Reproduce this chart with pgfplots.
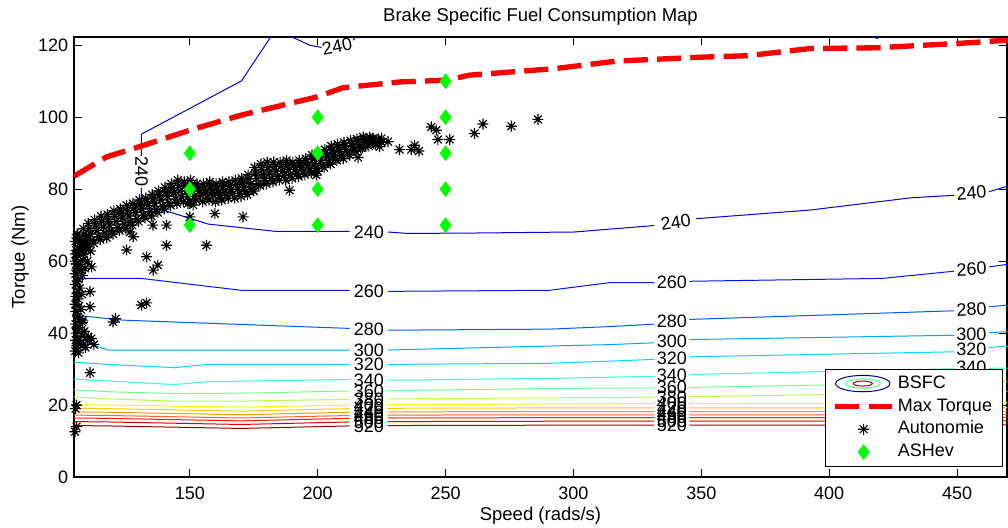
\documentclass[border=0pt]{standalone}
\usepackage{fontspec}
\setmainfont{Liberation Sans}
\usepackage{pgfplots}
\usepackage{pgfplotstable}
\pgfplotsset{compat=1.18}

% jet-like colours for the BSFC iso-lines (g/kWh)
\definecolor{c240}{rgb}{0,0,0.85}
\definecolor{c260}{rgb}{0,0.1,0.95}
\definecolor{c280}{rgb}{0,0.35,1}
\definecolor{c300}{rgb}{0,0.65,1}
\definecolor{c320}{rgb}{0,0.85,1}
\definecolor{c340}{rgb}{0.2,1,0.85}
\definecolor{c360}{rgb}{0.45,1,0.55}
\definecolor{c380}{rgb}{0.7,1,0.3}
\definecolor{c400}{rgb}{1,1,0}
\definecolor{c420}{rgb}{1,0.8,0}
\definecolor{c440}{rgb}{1,0.6,0}
\definecolor{c460}{rgb}{1,0.38,0.2}
\definecolor{c480}{rgb}{1,0.1,0}
\definecolor{c500}{rgb}{0.85,0,0}
\definecolor{c520}{rgb}{0.6,0,0}
\definecolor{legblue}{rgb}{0,0,0.55}
\definecolor{leggreen}{rgb}{0.3,1,0.6}
\definecolor{legred}{rgb}{0.6,0,0}

\newcommand{\tickfont}{\fontsize{10.8}{13}\selectfont}
\newcommand{\labfont}{\fontsize{11.1}{13}\selectfont}

\tikzset{clab/.style={font=\tickfont, inner sep=0pt}}
\pgfplotsset{cline/.style={line width=0.6pt, forget plot}}

% eight-armed asterisk marker
\pgfdeclareplotmark{ast8}{%
  \pgfpathmoveto{\pgfqpoint{0pt}{\pgfplotmarksize}}%
  \pgfpathlineto{\pgfqpoint{0pt}{-\pgfplotmarksize}}%
  \pgfpathmoveto{\pgfqpoint{\pgfplotmarksize}{0pt}}%
  \pgfpathlineto{\pgfqpoint{-\pgfplotmarksize}{0pt}}%
  \pgfpathmoveto{\pgfqpoint{0.707\pgfplotmarksize}{0.707\pgfplotmarksize}}%
  \pgfpathlineto{\pgfqpoint{-0.707\pgfplotmarksize}{-0.707\pgfplotmarksize}}%
  \pgfpathmoveto{\pgfqpoint{-0.707\pgfplotmarksize}{0.707\pgfplotmarksize}}%
  \pgfpathlineto{\pgfqpoint{0.707\pgfplotmarksize}{-0.707\pgfplotmarksize}}%
  \pgfusepathqstroke}

% operating points from the Autonomie simulation (speed rad/s, torque Nm)
\pgfplotstableread{
x y
105.2 35.0
105.8 36.5
106.5 34.5
105.4 38.0
107.2 37.2
105.6 40.0
106.8 41.5
105.3 42.5
108.0 43.0
106.0 44.5
105.5 46.0
107.5 46.5
105.2 48.0
106.3 49.5
105.8 51.0
107.0 52.5
105.4 53.5
106.5 55.0
105.3 56.5
108.0 56.0
105.9 58.0
107.3 59.0
105.2 60.0
106.4 61.5
108.5 62.0
105.6 63.0
107.4 64.0
105.3 65.5
106.8 66.3
108.8 65.0
105.9 67.3
109.5 67.0
110.0 38.0
109.2 36.0
108.8 40.5
111.5 38.5
112.5 36.8
108.3 36.7
110.3 39.0
108.2 43.6
106.2 37.8
107.8 39.2
105.9 41.2
107.0 44.0
106.7 47.5
105.5 50.2
107.8 50.8
106.0 54.3
107.6 57.5
105.6 59.3
108.2 60.3
106.9 63.0
105.4 62.0
109.6 63.2
111.2 62.8
110.0 60.0
109.0 58.0
111.0 29.0
105.7 20.0
105.3 19.0
105.7 14.0
105.1 12.6
106.0 62.5
107.0 65.0
106.2 67.5
108.0 63.5
109.2 66.0
108.4 69.0
110.0 64.0
111.2 67.5
110.3 70.5
112.5 65.0
113.7 68.5
112.8 71.5
115.0 66.0
116.2 69.5
115.3 72.5
117.5 66.5
118.7 70.0
117.8 73.0
120.0 67.5
121.2 71.0
120.3 74.0
122.5 68.5
123.7 72.0
122.8 74.5
125.0 69.0
126.2 72.5
125.3 75.5
127.5 70.0
128.7 73.5
127.8 76.0
130.0 71.0
131.2 74.5
130.3 77.0
132.5 72.0
133.7 75.5
132.8 77.5
135.0 72.5
136.2 76.0
135.3 78.5
137.5 73.5
138.7 77.0
137.8 79.5
140.0 74.5
141.2 78.0
140.3 80.5
142.5 75.5
143.7 79.0
142.8 81.5
145.0 76.0
146.2 79.5
145.3 82.5
147.5 76.5
148.7 79.5
147.8 82.0
150.0 76.5
151.2 79.5
150.3 82.5
152.5 77.0
153.7 79.5
152.8 81.5
155.0 76.5
156.2 79.0
155.3 81.5
157.5 77.0
158.7 79.5
157.8 82.0
160.0 76.5
161.2 79.0
160.3 81.5
162.5 77.0
163.7 79.5
162.8 82.0
165.0 77.5
166.2 80.0
165.3 82.0
167.5 77.5
168.7 80.0
167.8 82.5
170.0 78.0
171.2 80.5
170.3 83.0
172.5 78.5
173.7 81.5
172.8 84.0
175.0 79.5
176.2 83.0
175.3 86.0
177.5 81.0
178.7 84.0
177.8 87.0
180.0 81.5
181.2 84.5
180.3 87.5
182.5 82.0
183.7 85.0
182.8 87.5
185.0 82.5
186.2 85.0
185.3 87.5
187.5 82.5
188.7 85.5
187.8 88.0
190.0 83.0
191.2 85.5
190.3 87.5
192.5 83.5
193.7 86.0
192.8 88.0
195.0 84.0
196.2 86.5
195.3 88.5
197.5 84.5
198.7 87.0
197.8 89.5
200.0 85.0
201.2 88.0
200.3 90.0
202.5 86.0
203.7 89.0
202.8 91.0
205.0 87.0
206.2 89.5
205.3 92.0
207.5 88.0
208.7 90.5
207.8 92.5
210.0 88.5
211.2 91.0
210.3 93.0
212.5 89.5
213.7 92.0
212.8 93.5
215.0 90.5
216.2 92.5
215.3 94.0
217.5 91.5
218.7 93.0
217.8 94.5
220.0 92.0
221.2 93.5
220.3 94.5
222.5 92.5
223.7 94.0
225.0 93.0
107.8 63.8
106.6 66.3
109.8 64.8
108.6 67.5
111.8 65.8
110.6 69.0
114.3 66.8
113.1 70.0
116.8 67.8
115.6 71.0
119.3 68.3
118.1 71.5
121.8 69.3
120.6 72.5
124.3 70.3
123.1 73.3
126.8 70.8
125.6 74.0
129.3 71.8
128.1 74.8
131.8 72.8
130.6 75.8
134.3 73.8
133.1 76.5
136.8 74.3
135.6 77.3
139.3 75.3
138.1 78.3
141.8 76.3
140.6 79.3
144.3 77.3
143.1 80.3
146.8 77.8
145.6 81.0
149.3 78.0
148.1 80.8
151.8 78.0
150.6 81.0
154.3 78.3
153.1 80.5
156.8 77.8
155.6 80.3
159.3 78.3
158.1 80.8
161.8 77.8
160.6 80.3
164.3 78.3
163.1 80.8
166.8 78.8
165.6 81.0
169.3 78.8
168.1 81.3
171.8 79.3
170.6 81.8
174.3 80.0
173.1 82.8
176.8 81.3
175.6 84.5
179.3 82.5
178.1 85.5
181.8 83.0
180.6 86.0
184.3 83.5
183.1 86.3
186.8 83.8
185.6 86.3
189.3 84.0
188.1 86.8
191.8 84.3
190.6 86.5
194.3 84.8
193.1 87.0
196.8 85.3
195.6 87.5
199.3 85.8
198.1 88.3
201.8 86.5
200.6 89.0
204.3 87.5
203.1 90.0
206.8 88.3
205.6 90.8
209.3 89.3
208.1 91.5
211.8 89.8
210.6 92.0
214.3 90.8
213.1 92.8
216.8 91.5
215.6 93.3
219.3 92.3
218.1 93.8
221.8 92.8
220.6 94.0
120.0 43.1
121.0 44.0
131.1 47.8
133.1 48.4
111.0 51.5
111.0 47.3
111.6 58.4
125.3 63.1
133.1 61.2
135.7 57.5
137.5 58.9
140.9 64.4
140.9 70.0
156.5 64.4
127.9 66.8
126.6 68.1
135.6 70.0
150.0 72.3
149.3 76.0
189.0 79.7
215.8 88.8
170.8 72.3
159.8 73.2
151.3 75.6
199.5 83.9
221.6 94.1
224.9 94.1
227.5 93.2
224.2 91.8
232.0 91.0
236.6 91.0
239.6 90.6
237.9 92.2
244.4 97.3
246.4 96.4
247.0 93.8
251.6 93.8
261.3 95.5
264.6 98.1
275.7 97.5
286.1 99.4
}\autonomie

% engine maximum torque curve
\pgfplotstableread{
x y
104.7 83.6
117.5 89.0
129.8 91.7
150.0 96.4
170.2 100.6
199.5 105.6
209.9 108.2
232.0 109.8
250.2 110.3
259.4 111.7
292.6 113.5
316.8 115.6
350.1 116.7
368.3 117.1
392.5 119.1
418.2 119.3
450.0 120.5
469.5 121.4
}\maxtorque

% ASHev test points
\pgfplotstableread{
x y
150 90
150 80
150 70
200 100
200 90
200 80
200 70
250 110
250 100
250 90
250 80
250 70
}\ashev

\begin{document}
\begin{tikzpicture}
\path[use as bounding box] (-44.4pt,-30pt) rectangle (560.4pt,286.2pt);
\begin{axis}[
  at={(0,0)}, anchor=south west,
  scale only axis, width=559.8pt, height=264pt,
  xmin=104.72, xmax=469.5, ymin=0, ymax=122.3,
  xtick={150,200,...,450}, ytick={0,20,...,120},
  tick align=inside, major tick length=4.8pt,
  axis line style={line width=0.7pt},
  every tick/.style={black, line width=0.6pt},
  /pgf/number format/assume math mode=true,
  ticklabel style={font=\tickfont},
  xticklabel style={yshift=-2.5pt},
  unbounded coords=jump,
  title={Brake Specific Fuel Consumption Map},
  every axis title/.style={at={(axis description cs:0.5,1)}, anchor=center, yshift=12pt, font=\labfont},
  xlabel={Speed (rads/s)},
  ylabel={Torque (Nm)},
  every axis x label/.style={at={(axis description cs:0.5,0)}, anchor=center, yshift=-23.4pt, font=\labfont},
  every axis y label/.style={at={(axis description cs:0,0.5)}, anchor=center, rotate=90, yshift=32.4pt, font=\labfont},
  legend style={at={(axis description cs:1,0)}, anchor=south east, xshift=-2.7pt, yshift=6.3pt,
    draw=black, line width=0.6pt, fill=white, font=\tickfont,
    inner xsep=4pt, inner ysep=1.5pt, row sep=0pt,
    nodes={inner ysep=1.85pt, text height=7.8pt, text depth=2.2pt}},
  legend cell align=left,
]

% legend entries
\addlegendimage{legend image code/.code={
  \draw[legblue, line width=0.6pt] (16.5pt,0pt) ellipse [x radius=16.3pt, y radius=4.9pt];
  \draw[leggreen, line width=0.6pt] (16.5pt,0pt) ellipse [x radius=10.5pt, y radius=2.7pt];
  \draw[legred, line width=0.6pt] (16.5pt,0pt) ellipse [x radius=5.7pt, y radius=1.5pt];}}
\addlegendentry{BSFC}
\addlegendimage{legend image code/.code={
  \draw[red, line width=3.2pt, dash pattern=on 14.5pt off 5.5pt] (0pt,0pt) -- (34pt,0pt);}}
\addlegendentry{Max Torque}
\addlegendimage{legend image code/.code={
  \draw[black, line width=0.7pt, only marks, mark=ast8, mark size=3.3pt] plot coordinates {(17pt,0pt)};}}
\addlegendentry{Autonomie}
\addlegendimage{legend image code/.code={
  \draw[green, line width=0.3pt, only marks, mark=diamond*, mark size=4.5pt, fill=green] plot coordinates {(17pt,0pt)};}}
\addlegendentry{ASHev}

% BSFC iso-lines (gaps left for the level labels)
\addplot[cline, c240] coordinates {(181.9,122.6)(170.2,110.1)(131.1,95.3)(131.1,89.2)(nan,nan)
  (131.1,80.4)(131.1,74.8)(139.6,74.2)(157.2,70.3)(183.2,68.3)(212.5,68.3)(nan,nan)
  (227.5,68.1)(235.2,67.7)(259.4,67.8)(300.4,68.1)(331.6,69.9)(nan,nan)
  (348.0,71.8)(392.5,74.2)(431.9,77.6)(448.8,78.3)(nan,nan)(462.5,79.3)(469.5,80.8)};
\addplot[cline, c240] coordinates {(189.1,122.6)(196.9,120.0)(200.8,119.5)(201.5,119.4)(nan,nan)(213.8,121.4)(215.3,122.6)};
\addplot[cline, c240] coordinates {(416.8,122.6)(418.6,121.9)(420.4,122.6)};
\addplot[cline, c260] coordinates {(104.7,55.2)(131,55.2)(170,51.9)(212.5,51.9)(nan,nan)
  (227.5,51.6)(290.6,51.9)(314,54)(331.6,54)(nan,nan)(345.3,54.4)(420.7,55.2)(448.8,57.2)(nan,nan)(462.5,58.4)(469.5,59.1)};
\addplot[cline, c280] coordinates {(104.7,45)(123.8,43.6)(212.5,41.3)(nan,nan)
  (227.5,40.8)(290.6,41.1)(314,41.8)(331.6,42.5)(nan,nan)(345.3,43.8)(448.8,46.2)(nan,nan)(462.5,47.3)(469.5,47.8)};
\addplot[cline, c300] coordinates {(104.7,38.5)(118,35.3)(212.5,35.3)(nan,nan)
  (227.5,35.3)(290.6,36.4)(314,36.8)(331.6,37.3)(nan,nan)(345.3,38.2)(448.8,39.4)(nan,nan)(462.5,40.1)(469.5,40.4)};
\addplot[cline, c320] coordinates {(104.7,31.9)(118,31.3)(144,30.4)(157,31.3)(212.5,31.3)(nan,nan)
  (227.5,31.3)(290.6,31.6)(314,32.2)(331.6,32.7)(nan,nan)(345.3,33.4)(448.8,34.8)(nan,nan)(462.5,36)(469.5,36.4)};
\addplot[cline, c340] coordinates {(104.7,27.2)(118,26.7)(144,25.7)(157,26.5)(212.5,27.1)(nan,nan)
  (227.5,26.9)(290.6,27.4)(331.6,28)(nan,nan)(345.3,28.5)(448.8,30.1)(nan,nan)(462.5,30.2)(469.5,30.3)};
\addplot[cline, c360] coordinates {(104.7,24.2)(118,23.7)(144,23.2)(170,23.3)(212.5,23.9)(nan,nan)
  (227.5,24.0)(290.6,24.6)(331.6,24.8)(nan,nan)(345.3,24.9)(469.5,26.5)};
\addplot[cline, c380] coordinates {(104.7,22.3)(118,21.7)(144,21.1)(170,21.1)(212.5,21.6)(nan,nan)
  (227.5,21.7)(290.6,22.0)(331.6,22.2)(nan,nan)(345.3,22.3)(469.5,23.7)};
\addplot[cline, c400] coordinates {(104.7,20.2)(118,20.0)(170,19.4)(212.5,20.0)(nan,nan)
  (227.5,20.1)(290.6,20.3)(331.6,20.4)(nan,nan)(345.3,20.4)(420,20.5)(469.5,20.7)};
\addplot[cline, c420] coordinates {(104.7,19.1)(118,19.0)(170,18.3)(212.5,19.0)(nan,nan)
  (227.5,19.1)(290.6,19.2)(331.6,19.2)(nan,nan)(345.3,19.2)(420,19.2)(469.5,19.3)};
\addplot[cline, c440] coordinates {(104.7,18.1)(118,18.0)(170,17.3)(212.5,18.0)(nan,nan)
  (227.5,18.1)(290.6,18.2)(331.6,18.2)(nan,nan)(345.3,18.2)(420,18.2)(469.5,18.3)};
\addplot[cline, c460] coordinates {(104.7,17.2)(118,17.1)(170,16.4)(212.5,17.1)(nan,nan)
  (227.5,17.2)(290.6,17.3)(331.6,17.3)(nan,nan)(345.3,17.3)(420,17.3)(469.5,17.4)};
\addplot[cline, c480] coordinates {(104.7,16.4)(118,16.3)(170,15.6)(212.5,16.3)(nan,nan)
  (227.5,16.4)(290.6,16.5)(331.6,16.5)(nan,nan)(345.3,16.5)(420,16.5)(469.5,16.6)};
\addplot[cline, c500] coordinates {(104.7,15.4)(118,15.3)(170,14.6)(212.5,15.3)(nan,nan)
  (227.5,15.4)(290.6,15.5)(331.6,15.5)(nan,nan)(345.3,15.5)(420,15.5)(469.5,15.6)};
\addplot[cline, c520] coordinates {(104.7,14.3)(118,14.2)(170,13.5)(212.5,14.2)(nan,nan)
  (227.5,14.3)(290.6,14.4)(331.6,14.4)(nan,nan)(345.3,14.4)(420,14.4)(469.5,14.5)};

% level labels
\node[clab, rotate=-90] at (axis cs:131.1,84.8) {240};
\node[clab, rotate=12] at (axis cs:207.6,119.6) {240};
\node[clab] at (axis cs:220,68.1) {240};
\node[clab, rotate=9] at (axis cs:340,70.8) {240};
\node[clab, rotate=5] at (axis cs:455.6,78.9) {240};
\node[clab] at (axis cs:220,51.7) {260};
\node[clab] at (axis cs:220,41.0) {280};
\node[clab] at (axis cs:220,35.3) {300};
\node[clab] at (axis cs:220,31.3) {320};
\node[clab] at (axis cs:220,27.0) {340};
\node[clab] at (axis cs:220,23.95) {360};
\node[clab] at (axis cs:220,21.65) {380};
\node[clab] at (axis cs:220,20.05) {400};
\node[clab] at (axis cs:220,19.0) {420};
\node[clab] at (axis cs:220,18.0) {440};
\node[clab] at (axis cs:220,17.1) {460};
\node[clab] at (axis cs:220,16.3) {480};
\node[clab] at (axis cs:220,15.3) {500};
\node[clab] at (axis cs:220,14.2) {520};
\node[clab] at (axis cs:338.5,54.1) {260};
\node[clab] at (axis cs:338.5,43.2) {280};
\node[clab] at (axis cs:338.5,37.7) {300};
\node[clab] at (axis cs:338.5,33.0) {320};
\node[clab] at (axis cs:338.5,28.2) {340};
\node[clab] at (axis cs:338.5,24.85) {360};
\node[clab] at (axis cs:338.5,22.25) {380};
\node[clab] at (axis cs:338.5,20.4) {400};
\node[clab] at (axis cs:338.5,19.2) {420};
\node[clab] at (axis cs:338.5,18.2) {440};
\node[clab] at (axis cs:338.5,17.3) {460};
\node[clab] at (axis cs:338.5,16.5) {480};
\node[clab] at (axis cs:338.5,15.5) {500};
\node[clab] at (axis cs:338.5,14.4) {520};
\node[clab, rotate=3] at (axis cs:455.6,57.8) {260};
\node[clab, rotate=3] at (axis cs:455.6,46.6) {280};
\node[clab] at (axis cs:455.6,39.7) {300};
\node[clab] at (axis cs:455.6,35.4) {320};
\node[clab] at (axis cs:455.6,30.4) {340};

% maximum torque
\addplot[forget plot, red, line width=3.2pt, dash pattern=on 14.5pt off 5.5pt] table {\maxtorque};

% operating points
\addplot[forget plot, only marks, black, mark=ast8, mark size=3.3pt, line width=0.7pt] table {\autonomie};
\addplot[forget plot, only marks, green, mark=diamond*, mark size=4.5pt,
  mark options={fill=green, draw=green, line width=0.3pt}] table {\ashev};
\end{axis}
\end{tikzpicture}
\end{document}
